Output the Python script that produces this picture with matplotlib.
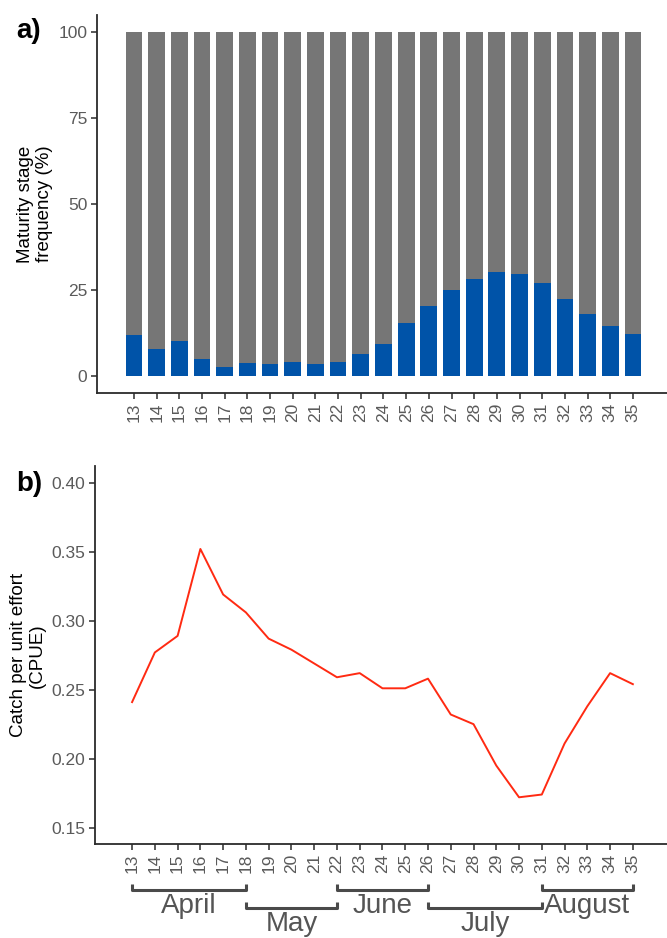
import matplotlib.pyplot as plt
import numpy as np

plt.rcParams['font.family'] = ['Liberation Sans', 'DejaVu Sans']

weeks = np.arange(13, 36)
mature_pct = [11.9, 7.8, 10.0, 4.8, 2.7, 3.7, 3.5, 4.1, 3.5, 4.0, 6.4, 9.2,
              15.5, 20.3, 25.0, 28.3, 30.2, 29.7, 26.9, 22.4, 18.0, 14.6, 12.3]
cpue = [0.241, 0.277, 0.289, 0.352, 0.319, 0.306, 0.287, 0.279, 0.269, 0.259,
        0.262, 0.251, 0.251, 0.258, 0.232, 0.225, 0.195, 0.172, 0.174, 0.211,
        0.238, 0.262, 0.254]
months = ['April', 'May', 'June', 'July', 'August']
month_start = [13, 18, 22, 26, 31]
month_end = [18, 22, 26, 31, 35]

grey_bar = '#767676'
blue_bar = '#0053A8'
tick_col = '#5a5a5a'
axis_col = '#2b2b2b'

fig = plt.figure(figsize=(6.67, 9.38), dpi=100)
ax1 = fig.add_axes([0.1454, 0.581, 0.8546, 0.403])
ax2 = fig.add_axes([0.1424, 0.100, 0.8576, 0.403])

# panel a: stacked percentage bars
rest = [100 - v for v in mature_pct]
ax1.bar(weeks, mature_pct, width=0.74, color=blue_bar)
ax1.bar(weeks, rest, bottom=mature_pct, width=0.74, color=grey_bar)
ax1.set_ylim(-5, 105)
ax1.set_yticks([0, 25, 50, 75, 100])
ax1.set_ylabel('Maturity stage\nfrequency (%)', fontsize=13.5, labelpad=4,
               linespacing=1.15)

# panel b: CPUE line
ax2.plot(weeks, cpue, color='#FF2A12', lw=1.4)
ax2.set_ylim(0.138, 0.412)
ax2.set_yticks([0.15, 0.20, 0.25, 0.30, 0.35, 0.40])
ax2.set_yticklabels(['0.15', '0.20', '0.25', '0.30', '0.35', '0.40'])
ax2.set_ylabel('Catch per unit effort\n(CPUE)', fontsize=13.5, labelpad=4,
               linespacing=1.15)

for ax in (ax1, ax2):
    ax.set_xlim(11.37, 36.5)
    ax.set_xticks(weeks)
    ax.set_xticklabels([str(w) for w in weeks], rotation=90)
    for side in ('top', 'right'):
        ax.spines[side].set_visible(False)
    for side in ('left', 'bottom'):
        ax.spines[side].set_color(axis_col)
        ax.spines[side].set_linewidth(1.3)
    ax.tick_params(colors=axis_col, labelcolor=tick_col, labelsize=12.5,
                   length=4, width=1.1, pad=3)

# month brackets under panel b
trans = ax2.get_xaxis_transform()
for i, (m, s, e) in enumerate(zip(months, month_start, month_end)):
    y = -0.122 if i % 2 == 0 else -0.169
    ax2.plot([s, s, e, e], [y + 0.016, y, y, y + 0.016], transform=trans,
             color='#4a4a4a', lw=2.2, clip_on=False, solid_capstyle='butt')
    ax2.text((s + e) / 2, y - 0.008, m, transform=trans, ha='center',
             va='top', fontsize=20, color='#555555')

fig.text(0.024, 0.960, 'a)', fontsize=20, fontweight='bold')
fig.text(0.024, 0.477, 'b)', fontsize=20, fontweight='bold')

fig.savefig('out.png', dpi=100)
